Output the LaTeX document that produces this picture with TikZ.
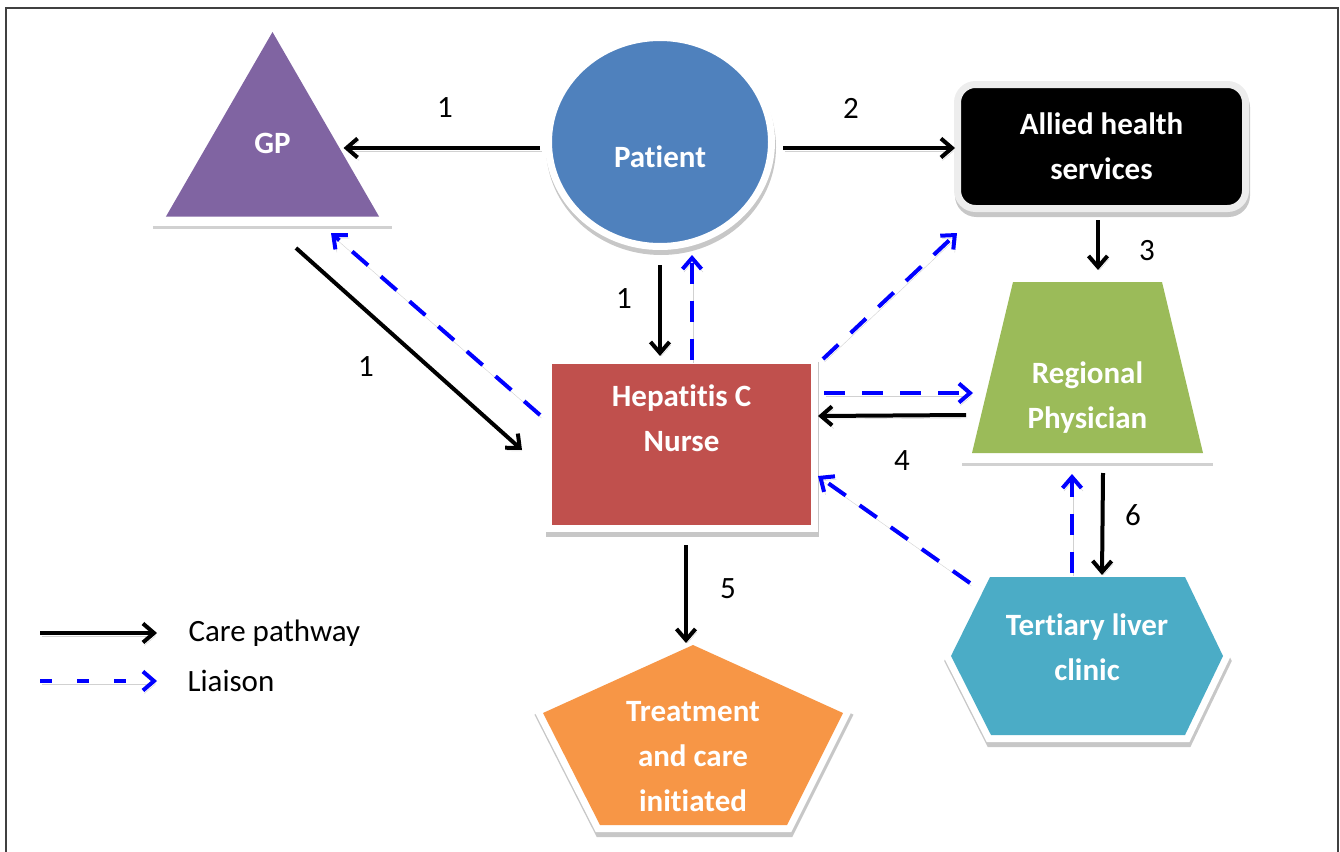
\documentclass[tikz,border=0pt]{standalone}
\usepackage{fontspec}
\setmainfont{Carlito}[Ligatures=NoCommon]
\usetikzlibrary{arrows.meta,shapes.geometric}

\definecolor{gpviola}{HTML}{8064A2}
\definecolor{pazblu}{HTML}{4F81BD}
\definecolor{infrosso}{HTML}{C0504D}
\definecolor{regverde}{HTML}{9BBB59}
\definecolor{tercel}{HTML}{4BACC6}
\definecolor{trarancio}{HTML}{F79646}

\tikzset{
  ombra/.style={preaction={draw=black!22, fill=black!22, transform canvas={shift={(1,5)}}}},
  bordo/.style={draw=white, line width=7pt, ombra},
  forma/.style={inner sep=0pt, outer sep=0pt},
  testo/.style={text=white, font=\fontsize{31}{45}\selectfont\bfseries, align=center},
  ombralinea/.style={preaction={draw=black!18, transform canvas={shift={(1.5,3)}}}},
  cura/.style={line width=4pt, -{Straight Barb[length=11pt,width=19pt]}, ombralinea},
  contatto/.style={cura, blue, dash pattern=on 21pt off 17pt},
  num/.style={font=\fontsize{31}{37}\selectfont},
  lineaombra/.style={draw=black!18, line width=3pt},
  cornice/.style={fill=white, draw=white, line width=14pt, line join=miter,
    preaction={draw=black!22, fill=black!22, line width=14pt, line join=miter,
      transform canvas={shift={(1,5)}}}}
}

\begin{document}
\begin{tikzpicture}[x=1pt, y=-1pt]
  \useasboundingbox (0,0) rectangle (1340,851);
  \clip (0,0) rectangle (1340,851);
  % cornice
  \draw[black!75, line width=2pt] (6,8) rectangle (1338,900);

  % GP
  \node[forma, regular polygon, regular polygon sides=3, minimum size=246pt, fill=gpviola,
        label={[testo, yshift=12pt]center:GP}] (gp) at (272.5,155) {};
  \draw[lineaombra] ([shift={(-13,11)}]gp.corner 2) -- ([shift={(13,11)}]gp.corner 3);

  % Patient
  \node[forma, ellipse, bordo, minimum width=223pt, minimum height=209pt, fill=pazblu,
        label={[testo, yshift=-15pt]center:Patient}] (paz) at (660,142) {};

  % Allied health services
  \node[forma, testo, rounded corners=18pt, draw=black!7, line width=7pt, ombra, fill=black,
        minimum width=288pt, minimum height=124pt] (allied) at (1101.5,146.5) {Allied health\\services};

  % Hepatitis C Nurse
  \node[forma, bordo, fill=infrosso, minimum width=266pt, minimum height=168pt,
        label={[testo, yshift=26pt]center:Hepatitis C\\Nurse}] (inf) at (681.5,444.5) {};

  % Regional Physician
  \fill[regverde] (1013,282) -- (1162,282) -- (1203,453) -- (972,453) -- cycle;
  \node[forma, minimum width=231pt, minimum height=171pt,
        label={[testo, yshift=-30pt]center:Regional\\Physician}] (reg) at (1087.5,367.5) {};
  \draw[lineaombra] ([shift={(-10,11)}]reg.south west) -- ([shift={(10,11)}]reg.south east);

  % Tertiary liver clinic
  \path[cornice] (951,656) -- (990,577) -- (1185,577) -- (1223,656) -- (1185,735) -- (991,735) -- cycle;
  \fill[tercel] (951,656) -- (990,577) -- (1185,577) -- (1223,656) -- (1185,735) -- (991,735) -- cycle;
  \node[forma, minimum width=279pt, minimum height=165pt,
        label={[testo, yshift=8.5pt]center:Tertiary liver\\clinic}] (ter) at (1087,656) {};

  % Treatment and care initiated
  \path[cornice] (693,645) -- (843,713) -- (787,825) -- (600,825) -- (543,713) -- cycle;
  \fill[trarancio] (693,645) -- (843,713) -- (787,825) -- (600,825) -- (543,713) -- cycle;
  \node[forma, minimum width=300pt, minimum height=180pt,
        label={[testo, yshift=-21.5pt]center:Treatment\\and care\\initiated}] (tra) at (693,735) {};

  % percorso di cura
  \draw[cura] ([shift={(-8.5,6)}]paz.west) -- ([shift={(0,-7)}]gp.east);
  \draw[cura] ([shift={(11.5,6)}]paz.east) -- ([shift={(-2.5,1.5)}]allied.west);
  \draw[cura] ([shift={(0,18.5)}]paz.south) -- ([shift={(-21.5,-4.5)}]inf.north);
  \draw[cura] ([shift={(23.5,31.5)}]gp.south) -- ([shift={(-26.5,5.5)}]inf.west);
  \draw[cura] ([shift={(-3.5,11.5)}]allied.south) -- ([shift={(10.5,-12)}]reg.north);
  \draw[cura] ([shift={(-6,-38)}]reg.south west) -- ([shift={(3.5,-28.5)}]inf.east);
  \draw[cura] ([shift={(15.5,20)}]reg.south) -- ([shift={(15,1.5)}]ter.north);
  \draw[cura] ([shift={(4.5,16.5)}]inf.south) -- ([shift={(-7,-2)}]tra.north);

  % contatti
  \draw[contatto] ([shift={(10.5,-0.5)}]inf.north) -- ([shift={(32,8.5)}]paz.south);
  \draw[contatto] ([shift={(-8.5,-29.5)}]inf.west) -- ([shift={(58.5,16.5)}]gp.south);
  \draw[contatto] ([shift={(8.5,-1.5)}]inf.north east) -- ([shift={(-0.5,24.5)}]allied.south west);
  \draw[contatto] ([shift={(9.5,-51.5)}]inf.east) -- ([shift={(1,-60)}]reg.south west);
  \draw[contatto] ([shift={(-117,9.5)}]ter.north) -- ([shift={(3.5,31.5)}]inf.east);
  \draw[contatto] ([shift={(-15,-0.5)}]ter.north) -- ([shift={(-15.5,21)}]reg.south);

  % numeri
  \node[num] (n1) at (445,108) {1};
  \node[num] (n2) at (851,108) {2};
  \node[num] (n3) at (624,299) {1};
  \node[num] (n4) at (366,367) {1};
  \node[num] (n5) at (1147,251) {3};
  \node[num] (n6) at (902,461) {4};
  \node[num] (n7) at (728,589) {5};
  \node[num] (n8) at (1133,515) {6};

  % legenda
  \node[num, anchor=west] (legcura) at (185,633) {Care pathway};
  \node[num, anchor=west] (legcontatto) at (184,681) {Liaison};
  \coordinate (lega) at (40,633);
  \coordinate (legb) at (40,681);
  \draw[cura] (lega) -- ([xshift=-28pt]legcura.west);
  \draw[contatto, dash pattern=on 12pt off 25pt] (legb) -- ([xshift=-27pt]legcontatto.west);
\end{tikzpicture}
\end{document}
